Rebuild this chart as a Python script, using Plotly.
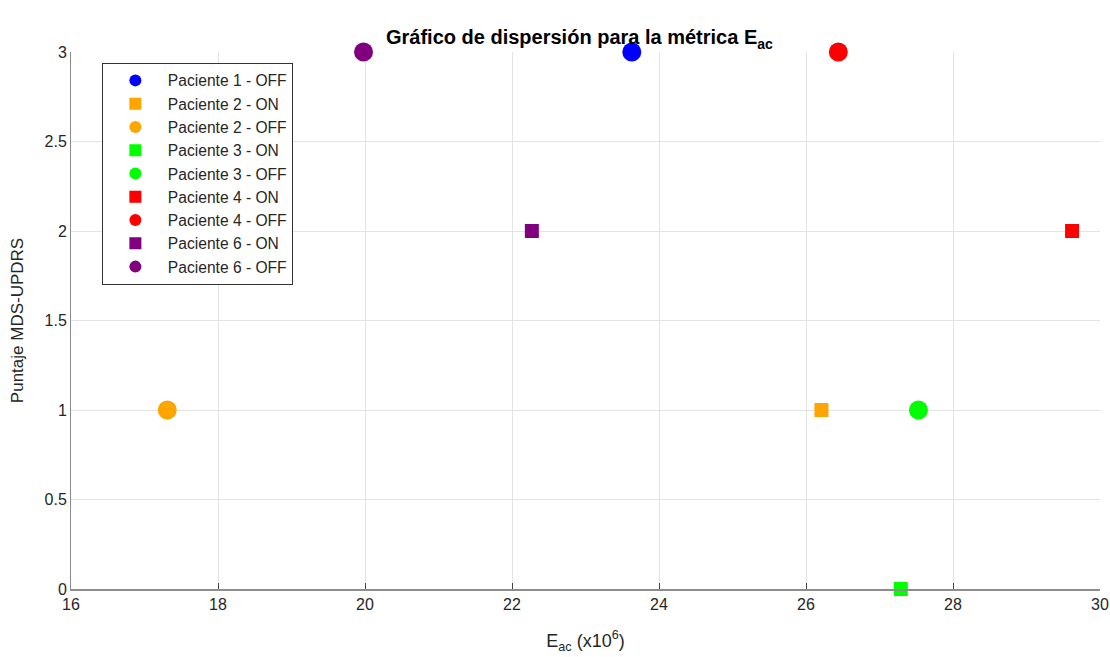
import plotly.graph_objects as go

labels = ["Paciente 1 - OFF", "Paciente 2 - ON", "Paciente 2 - OFF", "Paciente 3 - ON",
          "Paciente 3 - OFF", "Paciente 4 - ON", "Paciente 4 - OFF", "Paciente 6 - ON",
          "Paciente 6 - OFF"]
e_ac = [23.63, 26.21, 17.31, 27.29, 27.53, 29.62, 26.44, 22.27, 19.98]
updrs = [3, 1, 1, 0, 1, 2, 3, 2, 3]
colors = ["#0000FF", "#FFA500", "#FFA500", "#00FF00", "#00FF00", "#FF0000", "#FF0000",
          "#800080", "#800080"]
symbols = ["circle", "square", "circle", "square", "circle", "square", "circle",
           "square", "circle"]
sizes = [19, 14, 19, 14, 19, 14, 19, 14, 19]

fig = go.Figure()
for lab, x, y, c, s, sz in zip(labels, e_ac, updrs, colors, symbols, sizes):
    fig.add_trace(go.Scatter(x=[x], y=[y], mode="markers", name=lab, cliponaxis=False,
                             marker=dict(color=c, symbol=s, size=sz, line=dict(width=0))))

fig.update_layout(
    width=1110, height=657,
    margin=dict(l=71, r=10, t=52, b=68, autoexpand=False),
    paper_bgcolor="white", plot_bgcolor="white",
    font=dict(family="Liberation Sans, Arial, sans-serif", size=16, color="#262626"),
    title=dict(text="<b>Gráfico de dispersión para la métrica E<sub>ac</sub></b>",
               x=0.522, xanchor="center", y=0.943, yanchor="middle",
               font=dict(size=20, color="black")),
    legend=dict(x=0.03, y=0.98, xanchor="left", yanchor="top",
                bgcolor="white", bordercolor="#333333", borderwidth=1,
                font=dict(size=15.6, color="#262626"), itemsizing="constant",
                tracegroupgap=0, itemwidth=55),
    showlegend=True,
)
fig.update_xaxes(range=[16, 30], dtick=2, showgrid=True, gridcolor="#E3E3E3",
                 showline=True, linecolor="#8C8C8C", linewidth=2, mirror=False,
                 ticks="inside", ticklen=6, tickcolor="#444444", zeroline=False,
                 tickfont=dict(size=16),
                 title=dict(text="E<sub>ac</sub> (x10<sup>6</sup>)", standoff=22,
                            font=dict(size=18)))
fig.update_yaxes(range=[0, 3], dtick=0.5, showgrid=True, gridcolor="#E3E3E3",
                 showline=True, linecolor="#8C8C8C", linewidth=1,
                 ticks="", zeroline=False, tickfont=dict(size=16),
                 title=dict(text="Puntaje MDS-UPDRS", standoff=16, font=dict(size=17)))

fig.write_html("out.html")
